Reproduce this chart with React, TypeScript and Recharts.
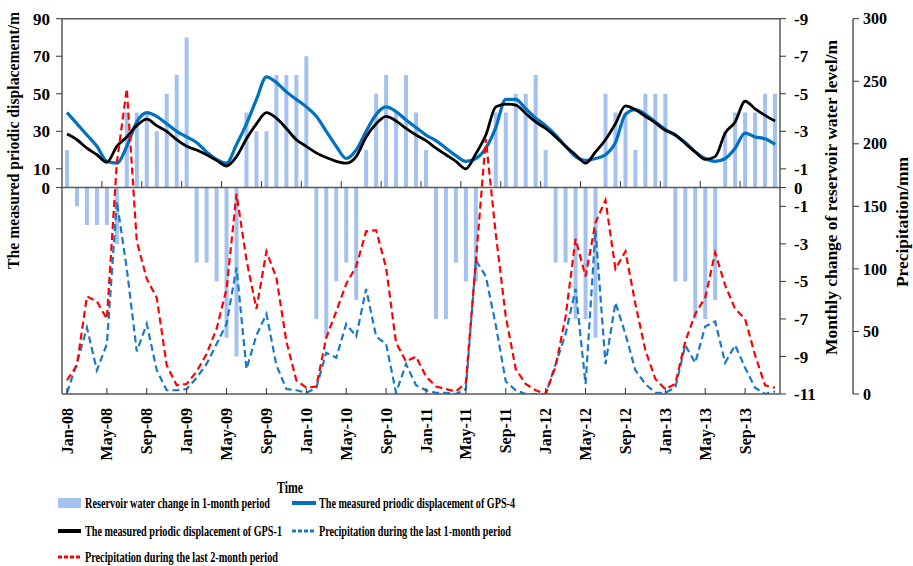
import React from 'react';
import { ComposedChart, Bar, Line, XAxis, YAxis, ReferenceLine, Legend } from 'recharts';

const FONT = '"Liberation Serif", "Times New Roman", serif';

const YEARS = ['08', '09', '10', '11', '12', '13'];
const MONTH_NAMES = ['Jan', 'Feb', 'Mar', 'Apr', 'May', 'Jun', 'Jul', 'Aug', 'Sep', 'Oct', 'Nov', 'Dec'];
const months = YEARS.flatMap((y) => MONTH_NAMES.map((m) => `${m}-${y}`));

// Reservoir water change in 1-month period (m)
const reservoirChange = [
  2, -1, -2, -2, -2, -3, 4, 4, 4, 3, 5, 6,
  8, -4, -4, -5, -8, -9, 4, 3, 3, 6, 6, 6,
  7, -7, -8, -5, -4, -6, 2, 5, 6, 4, 6, 4,
  2, -7, -7, -4, -5, -5, 0, 4, 4, 5, 5, 6,
  2, -4, -4, -7, -7, -8, 5, 4, 4, 2, 5, 5,
  5, -5, -5, -7, -7, -6, 3, 4, 4, 4, 5, 5,
];

// Measured periodic displacement of GPS-4 (m)
const gps4 = [
  40, 34, 28, 22, 14, 13, 22, 35, 40, 38, 34, 30,
  27, 24, 19, 15, 13, 23, 34, 47, 59, 56, 51, 47,
  43, 38, 30, 22, 15.5, 20, 30, 39, 43, 40.5, 36, 32,
  28, 25, 21, 17, 14, 15.5, 21, 32, 47, 47, 42, 37,
  33, 28, 22, 16.5, 14.5, 15.5, 17.5, 24, 39, 41.5, 39, 35,
  31, 28, 24, 19, 15.5, 14, 15.5, 21, 29, 27, 26, 23,
];

// Measured periodic displacement of GPS-1 (m)
const gps1 = [
  28.5, 25.5, 21, 17.5, 13.5, 22, 27, 33, 36.5, 33, 30, 25.5,
  22, 20, 17.5, 14.5, 11.5, 16.5, 26, 34, 40, 37, 31.5, 25.5,
  22, 18.5, 16, 14, 13, 16.5, 27, 34, 38, 35.5, 31.5, 28,
  25, 21, 17.5, 14, 10, 18, 28, 43, 44.5, 44, 39.5, 35,
  31.5, 27, 22, 17.5, 13, 19, 25.5, 34, 43.5, 41.5, 38, 34.5,
  30.5, 28, 23.5, 19, 15, 16.5, 29, 35, 46, 42, 38.5, 35.5,
];

// Precipitation during the last 1-month period (mm)
const precip1 = [
  1, 25, 53, 19, 40, 154, 100, 34, 56, 19, 3, 3,
  4, 13, 24, 40, 56, 101, 20, 47, 64, 23, 4, 3,
  1, 5, 33, 29, 56, 46, 84, 46, 40, 1, 24, 7,
  3, 1, 1, 0, 4, 107, 94, 55, 10, 3, 0, 0,
  0, 24, 48, 84, 8, 131, 24, 73, 48, 19, 8, 1,
  1, 5, 39, 25, 54, 58, 25, 39, 21, 5, 0, 2,
];

// Precipitation during the last 2-month period (mm)
const precip2 = [
  11, 23, 78, 74, 60, 185, 244, 122, 92, 77, 23, 7,
  8, 18, 32, 52, 84, 160, 107, 68, 114, 93, 42, 11,
  5, 6, 45, 66, 88, 102, 130, 131, 101, 41, 26, 30,
  14, 6, 4, 2, 9, 106, 204, 128, 62, 20, 8, 3,
  0, 22, 62, 124, 94, 137, 155, 100, 114, 72, 35, 12,
  4, 8, 42, 64, 77, 113, 87, 68, 60, 31, 7, 5,
];

const leftTicks = [0, 10, 30, 50, 70, 90];
const reservoirTicks = [-11, -9, -7, -5, -3, -1, 0, 1, 3, 5, 7, 9];
const precipTicks = [0, 50, 100, 150, 200, 250, 300];
const midTickMonths = months.filter((_, i) => i > 0 && i % 4 === 0);

const data = months.map((m, i) => ({
  month: m,
  reservoir: reservoirChange[i] === 0 ? null : reservoirChange[i],
  gps4: gps4[i],
  gps1: gps1[i],
  p1: precip1[i],
  p2: precip2[i],
}));

const BAR_COLOR = '#A4C2F0';
const BLUE = '#0070C0';
const BLUE_DASH = '#1A78C8';
const RED = '#FF0000';
const AXIS = '#595959';

const tickStyle = { fontFamily: FONT, fontWeight: 'bold', fontSize: 17, fill: '#000' };

const XTick = (props: any) => {
  const { x, y, payload } = props;
  return (
    <g transform={`translate(${x},${y})`}>
      <text
        transform="rotate(-90)"
        x={-20}
        y={0}
        dy="0.35em"
        textAnchor="end"
        fontFamily={FONT}
        fontWeight="bold"
        fontSize={16}
        fill="#000"
      >
        {payload.value}
      </text>
    </g>
  );
};

const VLabel = ({ x, y, text, len }: { x: number; y: number; text: string; len: number }) => (
  <text
    x={x}
    y={y}
    transform={`rotate(-90, ${x}, ${y})`}
    textAnchor="middle"
    dy="0.35em"
    fontFamily={FONT}
    fontWeight="bold"
    fontSize={16}
    fill="#000"
    textLength={len}
    lengthAdjust="spacingAndGlyphs"
  >
    {text}
  </text>
);

const SQUEEZE = 0.75;

const CondText = ({ x, y, len, children, size = 14.5 }: { x: number; y: number; len: number; children: string; size?: number }) => (
  <g transform={`translate(${x},${y}) scale(${SQUEEZE},1)`}>
    <text
      x={0}
      y={0}
      dy="0.35em"
      fontFamily={FONT}
      fontWeight="bold"
      fontSize={size}
      fill="#000"
      textLength={len / SQUEEZE}
      lengthAdjust="spacingAndGlyphs"
    >
      {children}
    </text>
  </g>
);

const LegendSvg = () => (
  <svg width={913} height={78} style={{ display: 'block' }}>
    <rect x={58} y={10} width={23} height={10} fill={BAR_COLOR} />
    <CondText x={85} y={15} len={185}>Reservoir water change in 1-month period</CondText>
    <line x1={292} x2={316} y1={15} y2={15} stroke={BLUE} strokeWidth={4} />
    <CondText x={319} y={15} len={196}>The measured priodic displacement of GPS-4</CondText>
    <line x1={58} x2={81} y1={43} y2={43} stroke="#000" strokeWidth={4} />
    <CondText x={85} y={43} len={197}>The measured priodic displacement of GPS-1</CondText>
    <line x1={292} x2={316} y1={43} y2={43} stroke={BLUE_DASH} strokeWidth={3} strokeDasharray="4 2" />
    <CondText x={319} y={43} len={192}>Precipitation during the last 1-month period</CondText>
    <line x1={58} x2={81} y1={69} y2={69} stroke={RED} strokeWidth={3} strokeDasharray="4 2" />
    <CondText x={85} y={69} len={193}>Precipitation during the last 2-month period</CondText>
  </svg>
);

export default function App() {
  return (
    <div style={{ position: 'absolute', left: 0, top: 0, width: 913, height: 566, background: '#fff' }}>
      <ComposedChart
        width={913}
        height={566}
        data={data}
        margin={{ top: 18.7, right: 0, bottom: 0, left: 0 }}
        barSize={4}
      >
        <XAxis
          dataKey="month"
          interval={3}
          height={172}
          tick={<XTick />}
          tickSize={-6}
          tickMargin={0}
          axisLine={{ stroke: AXIS, strokeWidth: 1.5 }}
          tickLine={{ stroke: '#333' }}
          label={{
            content: () => (
              <CondText x={277} y={487} len={26} size={16}>
                Time
              </CondText>
            ),
          }}
        />
        <YAxis
          yAxisId="l1"
          domain={[-110, 90]}
          ticks={leftTicks}
          interval={0}
          allowDataOverflow
          width={62}
          axisLine={{ stroke: AXIS, strokeWidth: 1.5 }}
          tickLine={{ stroke: '#333' }}
          tick={tickStyle}
          tickMargin={6}
          label={{
            content: () => <VLabel x={13} y={140.5} len={257} text="The measured priodic displacement/m" />,
          }}
        />
        <YAxis
          yAxisId="r1"
          orientation="right"
          domain={[-11, 9]}
          ticks={reservoirTicks}
          interval={0}
          allowDataOverflow
          width={73}
          axisLine={{ stroke: AXIS, strokeWidth: 1.5 }}
          tickLine={{ stroke: '#333' }}
          tick={tickStyle}
          tickMargin={8}
          tickFormatter={(v: number) => (v > 0 ? `-${v}` : `${v}`)}
          label={{
            content: () => <VLabel x={831} y={197.5} len={315} text="Monthly change of reservoir water level/m" />,
          }}
        />
        <YAxis
          yAxisId="r2"
          orientation="right"
          domain={[0, 300]}
          ticks={precipTicks}
          interval={0}
          allowDataOverflow
          width={60}
          axisLine={{ stroke: AXIS, strokeWidth: 1.5 }}
          tickLine={{ stroke: '#333' }}
          tick={{ ...tickStyle, fontSize: 16 }}
          tickMargin={4}
          label={{
            content: () => <VLabel x={902} y={222} len={130} text="Precipitation/mm" />,
          }}
        />
        <ReferenceLine yAxisId="r1" y={9} stroke={AXIS} strokeWidth={1.5} />
        <Bar yAxisId="r1" dataKey="reservoir" fill={BAR_COLOR} isAnimationActive={false} />
        <ReferenceLine yAxisId="r1" y={0} stroke={AXIS} strokeWidth={1.5} />
        {midTickMonths.map((m) => (
          <ReferenceLine
            key={m}
            yAxisId="r1"
            position="start"
            segment={[
              { x: m, y: 0 },
              { x: m, y: 0.35 },
            ]}
            stroke="#333"
            strokeWidth={1}
          />
        ))}
        <Line
          yAxisId="l1"
          type="monotone"
          dataKey="gps4"
          stroke={BLUE}
          strokeWidth={3.2}
          dot={false}
          activeDot={false}
          isAnimationActive={false}
        />
        <Line
          yAxisId="l1"
          type="monotone"
          dataKey="gps1"
          stroke="#000"
          strokeWidth={2.8}
          dot={false}
          activeDot={false}
          isAnimationActive={false}
        />
        <Line
          yAxisId="r2"
          type="linear"
          dataKey="p1"
          stroke={BLUE_DASH}
          strokeWidth={2.2}
          strokeDasharray="7 4"
          dot={false}
          activeDot={false}
          isAnimationActive={false}
        />
        <Line
          yAxisId="r2"
          type="linear"
          dataKey="p2"
          stroke={RED}
          strokeWidth={2.2}
          strokeDasharray="7 4"
          dot={false}
          activeDot={false}
          isAnimationActive={false}
        />
        <Legend
          layout="horizontal"
          verticalAlign="middle"
          align="center"
          wrapperStyle={{ position: 'absolute', left: 0, top: 488, width: 913, height: 78 }}
          content={() => <LegendSvg />}
        />
      </ComposedChart>
    </div>
  );
}
